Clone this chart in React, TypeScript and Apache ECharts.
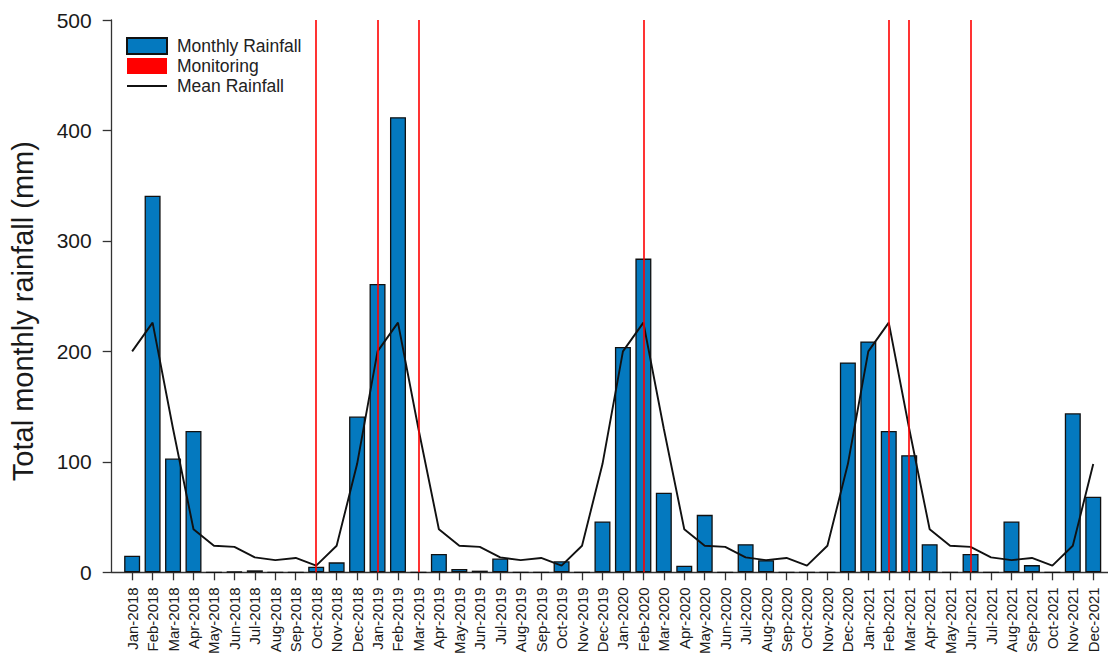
import React, { useEffect, useRef } from "react";
import * as echarts from "echarts";

const months = [
  "Jan-2018", "Feb-2018", "Mar-2018", "Apr-2018", "May-2018", "Jun-2018",
  "Jul-2018", "Aug-2018", "Sep-2018", "Oct-2018", "Nov-2018", "Dec-2018",
  "Jan-2019", "Feb-2019", "Mar-2019", "Apr-2019", "May-2019", "Jun-2019",
  "Jul-2019", "Aug-2019", "Sep-2019", "Oct-2019", "Nov-2019", "Dec-2019",
  "Jan-2020", "Feb-2020", "Mar-2020", "Apr-2020", "May-2020", "Jun-2020",
  "Jul-2020", "Aug-2020", "Sep-2020", "Oct-2020", "Nov-2020", "Dec-2020",
  "Jan-2021", "Feb-2021", "Mar-2021", "Apr-2021", "May-2021", "Jun-2021",
  "Jul-2021", "Aug-2021", "Sep-2021", "Oct-2021", "Nov-2021", "Dec-2021",
];

const monthlyRainfall = [
  15, 341, 103, 128, 0, 0.5, 1.8, 0, 0, 5, 9, 141,
  261, 412, 0, 16.5, 3, 1.5, 12.5, 0, 0, 10, 0, 46,
  204, 284, 72, 6, 52, 0, 25.5, 11, 0, 0, 0, 190,
  209, 128, 106, 25.5, 0, 16.5, 0, 46, 6.5, 0, 144, 68.5,
];

// Long-term mean rainfall for each calendar month (Jan..Dec)
const meanRainfallByMonth = [200, 226, 130, 39, 24, 23, 13.5, 11, 13, 6, 24, 98];

const monitoringMonths = [
  "Oct-2018", "Jan-2019", "Mar-2019", "Feb-2020", "Feb-2021", "Mar-2021", "Jun-2021",
];

const yTicks = { min: 0, max: 500, interval: 100 };

const FONT = "'Liberation Sans', Arial, Helvetica, sans-serif";

export default function App() {
  const ref = useRef<HTMLDivElement>(null);

  useEffect(() => {
    if (!ref.current) return;
    const chart = echarts.init(ref.current, null, { renderer: "svg" });
    const categories = ["", ...months, ""];
    const option: any = {
      animation: false,
      backgroundColor: "#ffffff",
      textStyle: { fontFamily: FONT },
      grid: {
        left: 111.7,
        right: -5.7,
        top: 20,
        bottom: 80.7,
        containLabel: false,
        outerBoundsMode: "none",
      },
      legend: {
        orient: "vertical",
        left: 126,
        top: 35,
        itemWidth: 40,
        itemHeight: 16,
        itemGap: 2,
        padding: [2, 5, 2, 0],
        textStyle: { fontSize: 17.5, color: "#222", fontFamily: FONT, padding: [0, 0, 0, 5] },
        data: [
          { name: "Monthly Rainfall", icon: "rect" },
          { name: "Monitoring", icon: "rect", itemStyle: { color: "#ff0000", borderWidth: 0 } },
          {
            name: "Mean Rainfall",
            icon: "path://M0,0 L40,0 L40,1.8 L0,1.8 Z",
            itemStyle: { color: "#111", borderWidth: 0 },
          },
        ],
      },
      xAxis: {
        type: "category",
        data: categories,
        boundaryGap: false,
        axisLine: { show: true, lineStyle: { color: "#333", width: 1.3 } },
        axisTick: {
          show: true,
          interval: (_i: number, v: string) => v !== "",
          length: 8,
          lineStyle: { color: "#333", width: 1.3 },
        },
        axisLabel: {
          interval: 0,
          rotate: 90,
          fontSize: 15,
          color: "#1a1a1a",
          margin: 15,
          fontFamily: FONT,
        },
        splitLine: { show: false },
      },
      yAxis: {
        type: "value",
        min: yTicks.min,
        max: yTicks.max,
        interval: yTicks.interval,
        axisLine: { show: true, lineStyle: { color: "#333", width: 1.3 } },
        axisTick: { show: true, length: 9, lineStyle: { color: "#333", width: 1.3 } },
        splitLine: { show: false },
        axisLabel: { fontSize: 21, color: "#1a1a1a", margin: 20, fontFamily: FONT },
        name: "Total monthly rainfall (mm)",
        nameLocation: "middle",
        nameGap: 74,
        nameTextStyle: { fontSize: 29, color: "#1a1a1a", fontFamily: FONT, padding: [0, 30, 0, 0] },
      },
      series: [
        {
          name: "Monthly Rainfall",
          type: "bar",
          data: months.map((m, i) => [m, monthlyRainfall[i]]),
          barWidth: 16,
          itemStyle: { color: "#0479BF", borderColor: "#111", borderWidth: 1.3 },
          z: 2,
        },
        {
          name: "Mean Rainfall",
          type: "line",
          data: months.map((m, i) => [m, meanRainfallByMonth[i % 12]]),
          symbol: "none",
          lineStyle: { color: "#111", width: 1.9 },
          itemStyle: { color: "#111" },
          z: 3,
        },
        {
          name: "Monitoring",
          type: "line",
          data: [],
          itemStyle: { color: "#ff0000" },
          lineStyle: { color: "#ff0000" },
          z: 4,
          markLine: {
            silent: true,
            symbol: ["none", "none"],
            label: { show: false },
            lineStyle: { color: "#ff0000", width: 1.6, type: "solid" },
            data: monitoringMonths.map((m) => ({ xAxis: m })),
          },
        },
      ],
    };
    chart.setOption(option);
    return () => chart.dispose();
  }, []);

  return (
    <div
      ref={ref}
      style={{ position: "absolute", left: 0, top: 0, width: 1108, height: 653, background: "#fff" }}
    />
  );
}
